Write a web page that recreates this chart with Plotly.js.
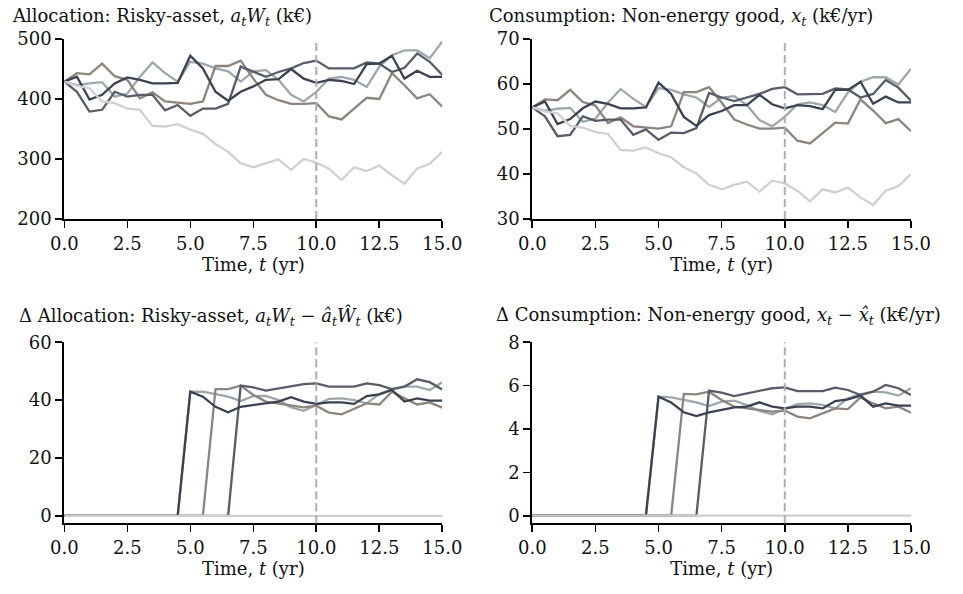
<!DOCTYPE html>
<html>
<head>
<meta charset="utf-8">
<script src="https://cdn.plot.ly/plotly-3.0.1.min.js"></script>
<style>
  html, body { margin: 0; padding: 0; background: #ffffff; }
  #chart { width: 963px; height: 594px; }
</style>
</head>
<body>
<div id="chart"></div>
<script>
// Simulation time grid (years)
const time = [0, 0.5, 1, 1.5, 2, 2.5, 3, 3.5, 4, 4.5, 5, 5.5, 6, 6.5, 7, 7.5,
              8, 8.5, 9, 9.5, 10, 10.5, 11, 11.5, 12, 12.5, 13, 13.5, 14, 14.5, 15];

const xTicks = [0, 2.5, 5, 7.5, 10, 12.5, 15];
const xTickLabels = ['0.0', '2.5', '5.0', '7.5', '10.0', '12.5', '15.0'];
const allocTicks = [200, 300, 400, 500];
const consTicks = [30, 40, 50, 60, 70];
const dAllocTicks = [0, 20, 40, 60];
const dConsTicks = [0, 2, 4, 6, 8];
const markerTime = 10;

// Risky-asset allocation a_t W_t (k€), one array per simulated path
const allocNavy  = [429, 437, 399, 407, 426, 436, 432, 426, 426, 427, 472, 451, 412, 397, 412, 421,
                    432, 433, 450, 434, 427, 432, 430, 425, 458, 459, 472, 434, 447, 437, 437];
const allocSlate = [429, 412, 379, 382, 412, 404, 407, 407, 381, 390, 372, 384, 384, 392, 454, 446,
                    437, 445, 451, 460, 464, 451, 451, 451, 461, 459, 445, 452, 476, 462, 440];
const allocMist  = [429, 423, 426, 428, 404, 409, 437, 461, 443, 429, 462, 459, 451, 446, 429, 446,
                    448, 432, 407, 396, 412, 434, 437, 432, 420, 454, 473, 481, 481, 468, 496];
const allocTaupe = [429, 443, 441, 459, 438, 432, 401, 411, 396, 394, 392, 396, 455, 455, 464, 434,
                    407, 398, 392, 392, 393, 371, 366, 384, 402, 400, 443, 423, 401, 408, 387];
const allocLight = [429, 422, 418, 396, 393, 384, 382, 355, 354, 358, 349, 342, 325, 312, 293, 286,
                    293, 299, 282, 300, 294, 284, 265, 286, 280, 289, 273, 259, 284, 292, 312];

// Non-energy consumption x_t (k€/yr)
const consNavy  = [54.8, 56.1, 51.1, 52.2, 54.6, 56.1, 55.6, 54.6, 54.6, 54.8, 60.3, 57.8, 52.7, 50.7, 53.1, 54.0,
                   55.3, 55.3, 57.6, 55.5, 54.6, 55.3, 55.1, 54.4, 58.7, 58.7, 60.5, 55.6, 57.2, 55.9, 55.9];
const consSlate = [54.8, 52.8, 48.4, 48.7, 52.8, 51.8, 52.1, 52.1, 48.7, 49.9, 47.6, 49.2, 49.1, 50.2, 58.0, 57.0,
                   56.2, 57.0, 57.8, 58.9, 59.3, 57.7, 57.8, 57.8, 59.0, 58.8, 57.0, 57.8, 60.9, 59.2, 56.3];
const consMist  = [54.8, 54.1, 54.5, 54.7, 51.6, 52.3, 55.9, 58.9, 56.7, 54.9, 59.1, 58.7, 57.7, 57.0, 54.9, 57.0,
                   57.3, 55.3, 52.0, 50.6, 52.7, 55.5, 55.9, 55.3, 53.8, 58.1, 60.5, 61.5, 61.5, 59.9, 63.4];
const consTaupe = [54.8, 56.6, 56.4, 58.7, 56.0, 55.2, 51.3, 52.6, 50.6, 50.3, 50.1, 50.6, 58.2, 58.2, 59.3, 55.9,
                   52.1, 51.0, 50.1, 50.1, 50.3, 47.4, 46.8, 49.1, 51.4, 51.2, 56.6, 54.1, 51.3, 52.2, 49.5];
const consLight = [54.8, 53.9, 53.5, 50.7, 50.3, 49.3, 48.9, 45.3, 45.2, 45.9, 44.6, 43.7, 41.5, 40.1, 37.6, 36.6,
                   37.6, 38.3, 36.1, 38.5, 37.9, 36.3, 33.9, 36.6, 35.9, 37.0, 34.8, 33.1, 36.3, 37.3, 40.0];

// Difference to the reference path: allocation (k€)
const dAllocNavy  = [0, 0, 0, 0, 0, 0, 0, 0, 0, 0, 42.9, 41.2, 37.7, 35.8, 37.7, 38.3,
                     38.9, 39.5, 41.0, 39.5, 38.7, 39.2, 39.2, 38.7, 41.4, 42.0, 43.5, 39.5, 40.6, 39.8, 39.8];
const dAllocSlate = [0, 0, 0, 0, 0, 0, 0, 0, 0, 0, 0, 0, 0, 0, 45.0, 44.4,
                     43.3, 44.1, 44.7, 45.5, 45.8, 44.7, 44.7, 44.7, 45.8, 45.2, 43.8, 44.7, 47.2, 46.2, 43.7];
const dAllocMist  = [0, 0, 0, 0, 0, 0, 0, 0, 0, 0, 42.9, 42.9, 42.1, 41.2, 39.7, 41.4,
                     41.5, 40.0, 37.5, 36.3, 38.3, 40.4, 40.6, 40.0, 38.9, 42.1, 43.8, 44.7, 44.7, 43.5, 46.2];
const dAllocTaupe = [0, 0, 0, 0, 0, 0, 0, 0, 0, 0, 0, 0, 43.8, 43.8, 45.0, 41.8,
                     39.5, 38.9, 38.1, 37.5, 38.1, 35.7, 35.1, 36.9, 38.9, 38.5, 42.9, 40.6, 38.5, 39.2, 37.4];
const dAllocLight = [0, 0, 0, 0, 0, 0, 0, 0, 0, 0, 0, 0, 0, 0, 0, 0,
                     0, 0, 0, 0, 0, 0, 0, 0, 0, 0, 0, 0, 0, 0, 0];

// Difference to the reference path: consumption (k€/yr)
const dConsNavy  = [0, 0, 0, 0, 0, 0, 0, 0, 0, 0, 5.49, 5.22, 4.77, 4.60, 4.77, 4.88,
                    5.00, 5.03, 5.23, 5.03, 4.95, 5.03, 5.03, 4.95, 5.29, 5.37, 5.54, 5.03, 5.18, 5.08, 5.08];
const dConsSlate = [0, 0, 0, 0, 0, 0, 0, 0, 0, 0, 0, 0, 0, 0, 5.77, 5.68,
                    5.52, 5.65, 5.77, 5.88, 5.92, 5.75, 5.75, 5.75, 5.91, 5.80, 5.57, 5.72, 6.03, 5.88, 5.57];
const dConsMist  = [0, 0, 0, 0, 0, 0, 0, 0, 0, 0, 5.49, 5.46, 5.34, 5.23, 5.06, 5.26,
                    5.31, 5.11, 4.83, 4.68, 4.92, 5.15, 5.18, 5.11, 4.95, 5.42, 5.60, 5.72, 5.69, 5.54, 5.88];
const dConsTaupe = [0, 0, 0, 0, 0, 0, 0, 0, 0, 0, 0, 0, 5.62, 5.60, 5.72, 5.34,
                    5.03, 4.95, 4.88, 4.80, 4.85, 4.57, 4.49, 4.72, 4.95, 4.92, 5.46, 5.18, 4.95, 5.03, 4.75];
const dConsLight = [0, 0, 0, 0, 0, 0, 0, 0, 0, 0, 0, 0, 0, 0, 0, 0,
                    0, 0, 0, 0, 0, 0, 0, 0, 0, 0, 0, 0, 0, 0, 0];

// Path colours (drawn in this order)
const pathColors = {
  mist:  '#9ea7ab',
  taupe: '#8c847d',
  slate: '#585c68',
  navy:  '#3c4152',
  light: '#d0d0d0'
};

const FONT = 'DejaVu Serif, Liberation Serif, serif';
const FONT_SIZE = 18;

function panelTraces(series, xa, ya) {
  const order = ['mist', 'taupe', 'slate', 'navy', 'light'];
  return order.map(k => ({
    type: 'scatter', mode: 'lines',
    x: time, y: series[k],
    xaxis: xa, yaxis: ya,
    line: { color: pathColors[k], width: 2.3 },
    hoverinfo: 'skip', showlegend: false
  }));
}

const traces = [].concat(
  panelTraces({ mist: allocMist, taupe: allocTaupe, slate: allocSlate, navy: allocNavy, light: allocLight }, 'x', 'y'),
  panelTraces({ mist: consMist, taupe: consTaupe, slate: consSlate, navy: consNavy, light: consLight }, 'x2', 'y2'),
  panelTraces({ mist: dAllocMist, taupe: dAllocTaupe, slate: dAllocSlate, navy: dAllocNavy, light: dAllocLight }, 'x3', 'y3'),
  panelTraces({ mist: dConsMist, taupe: dConsTaupe, slate: dConsSlate, navy: dConsNavy, light: dConsLight }, 'x4', 'y4')
);

const W = 963, H = 594;
const colL = [64.3 / W, 442.3 / W];
const colR = [532.3 / W, 911 / W];
const rowTop = [1 - 219 / H, 1 - 39 / H];
const rowBot = [1 - 523.3 / H, 1 - 342.3 / H];

const textFont = { family: FONT, size: FONT_SIZE, color: '#111' };

function xAxis(domain, anchor) {
  return {
    domain: domain, anchor: anchor, range: [0, 15],
    tickmode: 'array', tickvals: xTicks, ticktext: xTickLabels,
    showline: true, linecolor: '#000', linewidth: 2,
    ticks: 'outside', ticklen: 7, tickwidth: 1.6, tickcolor: '#000',
    showgrid: false, zeroline: false,
    tickfont: textFont,
    title: { text: 'Time, <i>t</i> (yr)', font: textFont, standoff: 5 }
  };
}
function yAxis(domain, anchor, range, vals) {
  return {
    domain: domain, anchor: anchor, range: range,
    tickmode: 'array', tickvals: vals, ticktext: vals.map(String),
    showline: true, linecolor: '#000', linewidth: 2,
    ticks: 'outside', ticklen: 7, tickwidth: 1.6, tickcolor: '#000',
    showgrid: false, zeroline: false,
    tickfont: textFont
  };
}

function panelTitle(text, xPx, yPx) {
  return {
    text: text, xref: 'paper', yref: 'paper',
    x: xPx / W, y: 1 - yPx / H, xanchor: 'left', yanchor: 'middle',
    showarrow: false, font: textFont
  };
}

function marker(xa, ya) {
  return {
    type: 'line', xref: xa, yref: ya + ' domain',
    x0: markerTime, x1: markerTime, y0: 0, y1: 1,
    line: { color: '#acacb3', width: 2, dash: '8px,4px' }, layer: 'above'
  };
}

const layout = {
  width: W, height: H,
  margin: { l: 0, r: 0, t: 0, b: 0 },
  paper_bgcolor: '#ffffff', plot_bgcolor: '#ffffff',
  font: textFont,
  showlegend: false,
  xaxis:  xAxis(colL, 'y'),
  yaxis:  yAxis(rowTop, 'x', [200, 500], allocTicks),
  xaxis2: xAxis(colR, 'y2'),
  yaxis2: yAxis(rowTop, 'x2', [30, 70], consTicks),
  xaxis3: xAxis(colL, 'y3'),
  yaxis3: yAxis(rowBot, 'x3', [-2.6, 60], dAllocTicks),
  xaxis4: xAxis(colR, 'y4'),
  yaxis4: yAxis(rowBot, 'x4', [-0.35, 8], dConsTicks),
  shapes: [marker('x', 'y'), marker('x2', 'y2'), marker('x3', 'y3'), marker('x4', 'y4')],
  annotations: [
    panelTitle('Allocation: Risky-asset, <i>a</i><sub><i>t</i></sub><i>W</i><sub><i>t</i></sub> (k€)', 10, 17),
    panelTitle('Consumption: Non-energy good, <i>x</i><sub><i>t</i></sub> (k€/yr)', 487, 17),
    panelTitle('Δ Allocation: Risky-asset, <i>a</i><sub><i>t</i></sub><i>W</i><sub><i>t</i></sub> \u2212 <i>\u00e2</i><sub><i>t</i></sub><i>\u0174</i><sub><i>t</i></sub> (k€)', 17, 316),
    panelTitle('Δ Consumption: Non-energy good, <i>x</i><sub><i>t</i></sub> \u2212 <i>x\u0302</i><sub><i>t</i></sub> (k€/yr)', 494, 316)
  ]
};

Plotly.newPlot('chart', traces, layout, { staticPlot: true, displayModeBar: false });
</script>
</body>
</html>
